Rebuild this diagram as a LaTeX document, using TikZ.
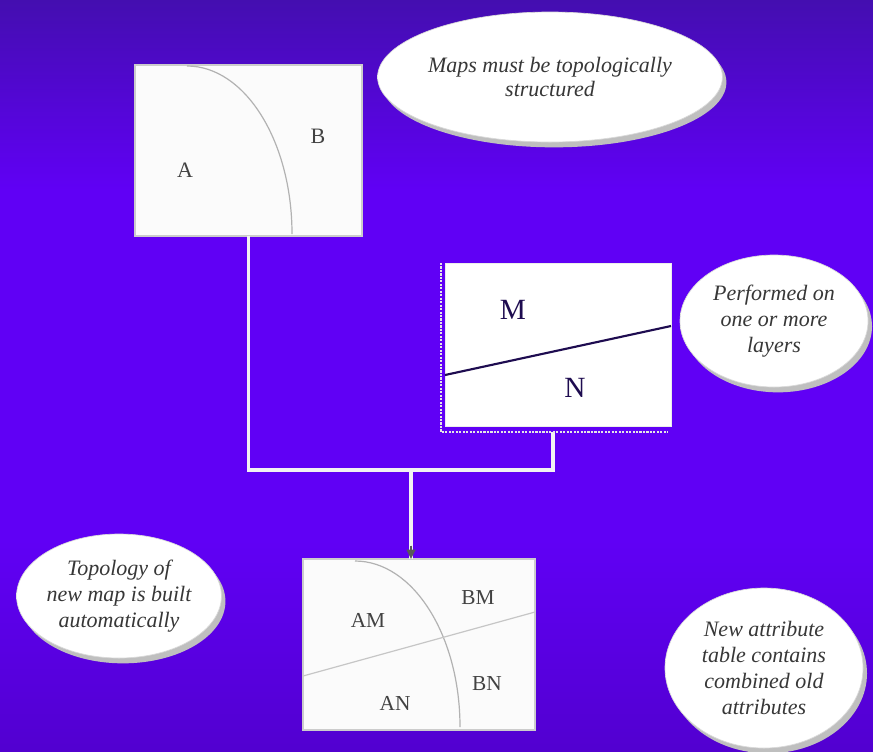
\documentclass[tikz,border=0pt]{standalone}
\usepackage{fontspec}
\setmainfont{Liberation Serif}
\usetikzlibrary{shapes.geometric,arrows.meta,shadows,calc}
\definecolor{bgtop}{RGB}{68,14,176}
\definecolor{bgmid}{RGB}{96,0,245}
\definecolor{bgbot}{RGB}{82,0,208}
\definecolor{navy}{RGB}{30,12,80}
\definecolor{txtgray}{RGB}{55,55,55}
\definecolor{lblgray}{RGB}{66,66,66}
\pgfdeclareradialshading{bubbleshade}{\pgfpoint{0bp}{0bp}}{%
  color(0bp)=(white); color(30bp)=(white); color(42bp)=(white!94!black); color(50bp)=(white!80!black)}
\begin{document}
\begin{tikzpicture}[x=0.75pt,y=-0.75pt,
  mapbox/.style={draw=gray!40, line width=1.5pt, fill=white!97!gray, inner sep=0pt, outer sep=0pt},
  mnbox/.style={draw=white!85!gray, line width=0.6pt, fill=white, inner sep=0pt, outer sep=0pt},
  bubble/.style={ellipse, draw=gray!30, line width=0.5pt, shading=bubbleshade,
     font=\fontsize{16.5}{19.5}\selectfont\itshape, text=txtgray, align=center, inner sep=0pt,
     drop shadow={shadow xshift=3pt, shadow yshift=-4pt, fill=gray!50, opacity=1}},
  conn/.style={draw=white!90!gray, line width=2.6pt},
  lbl/.style={font=\fontsize{16}{16}\selectfont, text=lblgray, inner sep=0pt},
  mnlbl/.style={font=\fontsize{22}{22}\selectfont, text=navy, inner sep=0pt},
  divline/.style={draw=gray!60, line width=0.9pt}
]
\fill[bgmid] (0,0) rectangle (873,751);
\shade[top color=bgtop, bottom color=bgmid] (0,0) rectangle (873,190);
\shade[top color=bgmid, bottom color=bgbot] (0,540) rectangle (873,751);
\useasboundingbox (0,0) rectangle (873,751);

\node[mapbox, minimum width=227*0.75pt, minimum height=171*0.75pt] (b1) at (248.5,150.5) {};
\node[mnbox, minimum width=226*0.75pt, minimum height=163*0.75pt] (b2) at (558,344.5) {};
\node[mapbox, minimum width=232*0.75pt, minimum height=171*0.75pt] (b3) at (419,644.5) {};

\coordinate (j) at (411,470);
\coordinate (b2c) at ([xshift=-3.75pt,yshift=-4.5pt]b2.south);
\coordinate (b3t) at ([xshift=-6pt]b3.north);

\draw[conn] (b1.south) |- (b2c |- j) -- (b2c);
\draw[conn] (j) -- (b3t);
\draw[-{Triangle[length=7pt,width=6.5pt]}, draw=black!65, fill=black!65, line width=1.6pt] ([yshift=10pt]b3t) -- (b3t);

% dotted frame of box 2
\draw[densely dotted, draw=white!80!gray, line width=1.6pt]
  ([xshift=-3pt]b2.north west) -- ([xshift=-3pt,yshift=-4.5pt]b2.south west) -- ([xshift=-2pt,yshift=-4.5pt]b2.south east);

% box 1 content
\draw[divline] (187,66) arc[start angle=270, end angle=360, x radius=105, y radius=168];
\node[lbl, font=\fontsize{16.5}{16.5}\selectfont] (la) at (185,170) {A};
\node[lbl, font=\fontsize{16.5}{16.5}\selectfont] (lb) at (318,136) {B};

% box 2 content
\draw[draw=navy, line width=1.6pt] (b2.west |- 0,375) -- (b2.east |- 0,326);
\node[mnlbl] (lm) at (513,310) {M};
\node[mnlbl] (ln) at (575,388) {N};

% box 3 content
\draw[divline] (355,561) arc[start angle=270, end angle=360, x radius=105, y radius=166];
\draw[draw=gray!45, line width=0.9pt] (b3.west |- 0,676) -- (b3.east |- 0,612);
\node[lbl] (lam) at (368,620) {AM};
\node[lbl] (lbm) at (478,598) {BM};
\node[lbl] (lbn) at (487,684) {BN};
\node[lbl] (lan) at (395,703) {AN};

% bubbles
\node[bubble, minimum width=320*0.75pt, minimum height=130*0.75pt] (e1) at (550,77)
  {Maps must be topologically\\[-1pt]structured};
\node[bubble, minimum width=188*0.75pt, minimum height=132*0.75pt] (e2) at (774,321)
  {Performed on\\one or more\\layers};
\node[bubble, minimum width=202*0.75pt, minimum height=124*0.75pt] (e3) at (119,596)
  {Topology of\\new map is built\\automatically};
\node[bubble, minimum width=198*0.75pt, minimum height=160*0.75pt] (e4) at (764,668)
  {New attribute\\table contains\\combined old\\attributes};
\end{tikzpicture}
\end{document}
